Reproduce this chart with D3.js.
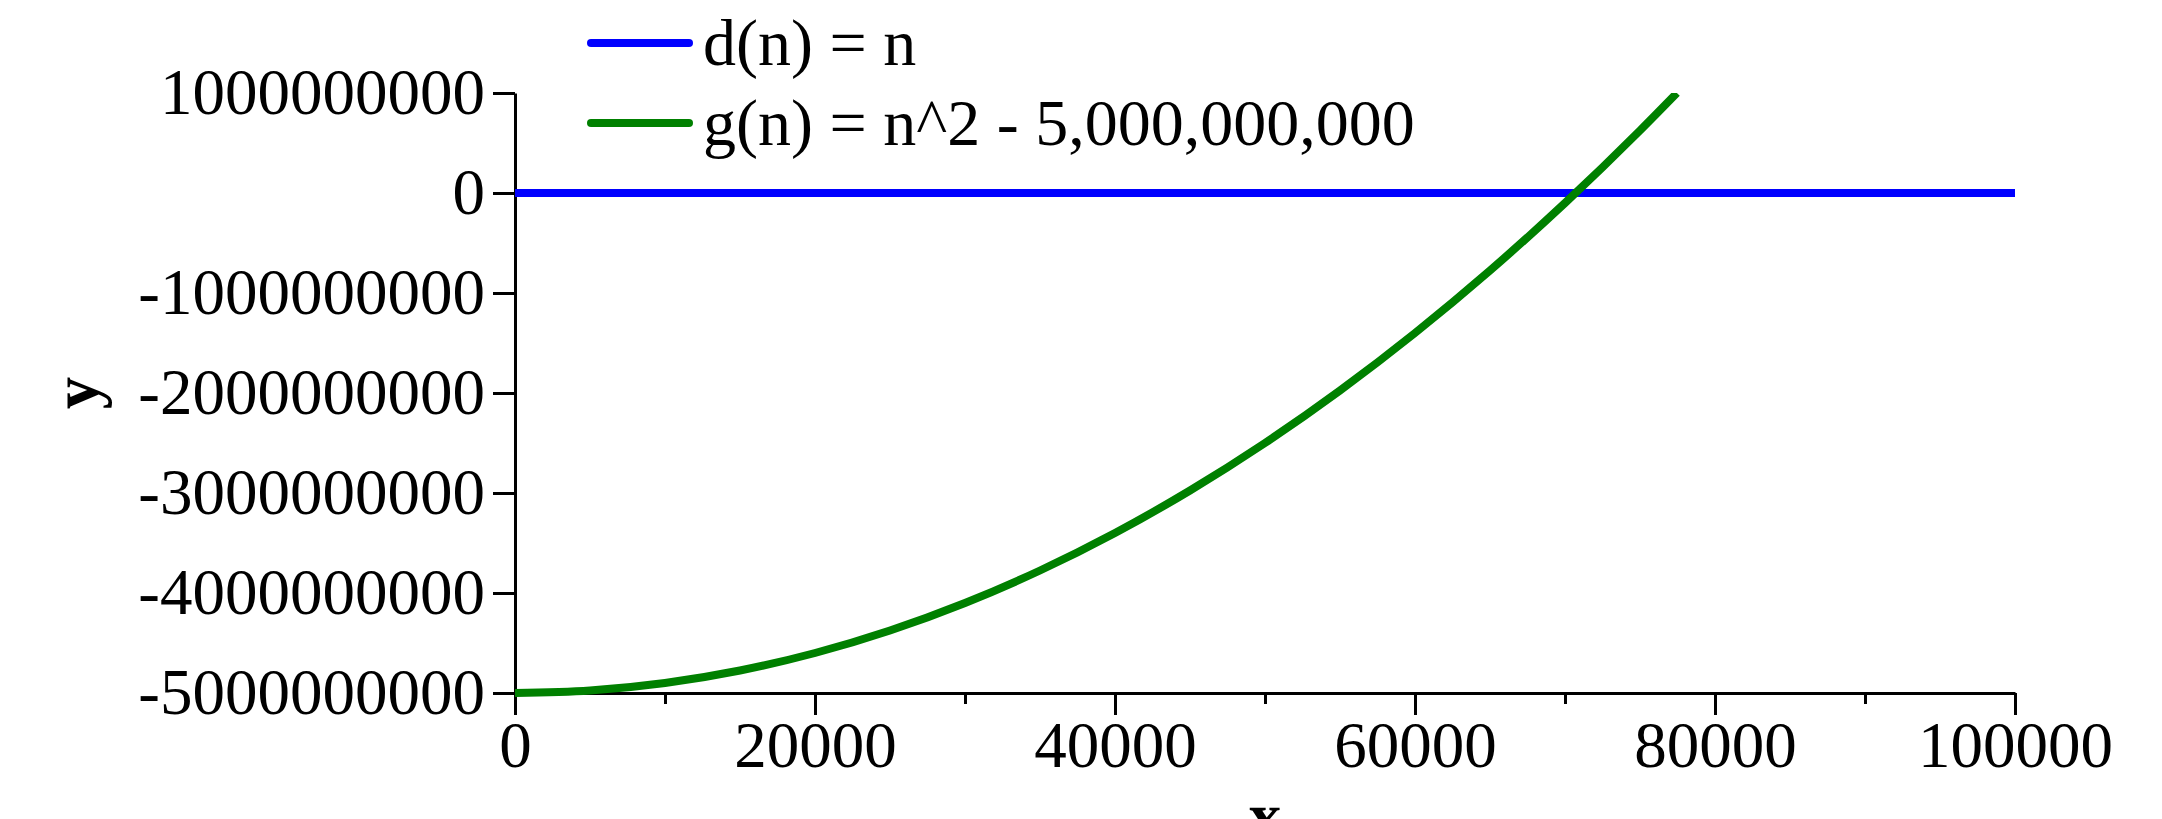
<!DOCTYPE html>
<html>
<head>
<meta charset="utf-8">
<script src="https://cdn.jsdelivr.net/npm/d3@7"></script>
<style>
  html, body { margin: 0; padding: 0; background: #ffffff; }
  svg { display: block; }
</style>
</head>
<body>
<svg id="chart" width="2162" height="819"></svg>
<script>
// ---- data ----
const xTicks = [0, 20000, 40000, 60000, 80000, 100000];
const xTickLabels = ["0", "20000", "40000", "60000", "80000", "100000"];
const xMinorTicks = [10000, 30000, 50000, 70000, 90000];
const yTicks = [1000000000, 0, -1000000000, -2000000000, -3000000000, -4000000000, -5000000000];
const yTickLabels = ["1000000000", "0", "-1000000000", "-2000000000", "-3000000000", "-4000000000", "-5000000000"];

const seriesNames = ["d(n) = n", "g(n) = n^2 - 5,000,000,000"];
const seriesColors = ["#0000ff", "#008000"];

// d(n) = n
const dN = [0, 100000];
const dValues = [0, 100000];

// g(n) = n^2 - 5,000,000,000 (read at regular n)
const gN = [0, 5000, 10000, 15000, 20000, 25000, 30000, 35000, 40000, 45000, 50000, 55000, 60000, 65000, 70000, 75000, 77460];
const gValues = [-5000000000, -4975000000, -4900000000, -4775000000, -4600000000, -4375000000, -4100000000, -3775000000, -3400000000, -2975000000, -2500000000, -1975000000, -1400000000, -775000000, -100000000, 625000000, 1000000000];

// ---- layout ----
const svg = d3.select("#chart");
const FONT = "'Liberation Serif', 'Times New Roman', serif";
const FS = 65;

const x = d3.scaleLinear().domain([0, 100000]).range([515, 2015]);
const y = d3.scaleLinear().domain([-5000000000, 1000000000]).range([693, 93]);

// clip for curves
svg.append("defs").append("clipPath").attr("id", "plotclip")
  .append("rect")
  .attr("x", x(0) - 5).attr("y", y(1000000000))
  .attr("width", x(100000) - x(0) + 10)
  .attr("height", y(-5000000000) - y(1000000000) + 5);

// y axis
const yAxis = d3.axisLeft(y)
  .tickValues(yTicks)
  .tickFormat((d, i) => yTickLabels[i])
  .tickSizeInner(22).tickSizeOuter(0).tickPadding(8);
const gy = svg.append("g").attr("transform", `translate(${x(0)},0)`).call(yAxis);
gy.select(".domain").attr("stroke", "#000").attr("stroke-width", 3);
gy.selectAll(".tick line").attr("stroke", "#000").attr("stroke-width", 3);
gy.selectAll(".tick text").attr("font-family", FONT).attr("font-size", FS).attr("fill", "#000");

// x axis
const xAxis = d3.axisBottom(x)
  .tickValues(xTicks)
  .tickFormat((d, i) => xTickLabels[i])
  .tickSizeInner(22).tickSizeOuter(0).tickPadding(6);
const gx = svg.append("g").attr("transform", `translate(0,${y(-5000000000)})`).call(xAxis);
gx.select(".domain").attr("stroke", "#000").attr("stroke-width", 3);
gx.selectAll(".tick line").attr("stroke", "#000").attr("stroke-width", 3);
gx.selectAll(".tick text").attr("font-family", FONT).attr("font-size", FS).attr("fill", "#000");

// x minor ticks
const xMinor = d3.axisBottom(x).tickValues(xMinorTicks).tickFormat("").tickSizeInner(11).tickSizeOuter(0);
const gxm = svg.append("g").attr("transform", `translate(0,${y(-5000000000)})`).call(xMinor);
gxm.select(".domain").remove();
gxm.selectAll(".tick line").attr("stroke", "#000").attr("stroke-width", 3);

// axis titles
svg.append("text")
  .attr("x", (x(0) + x(100000)) / 2).attr("y", 838)
  .attr("text-anchor", "middle")
  .attr("font-family", FONT).attr("font-size", FS).attr("font-weight", "bold")
  .text("x");
svg.append("text")
  .attr("transform", `translate(98,${(y(1000000000) + y(-5000000000)) / 2}) rotate(-90)`)
  .attr("text-anchor", "middle")
  .attr("font-family", FONT).attr("font-size", FS).attr("font-weight", "bold")
  .text("y");

// curves
const line = d3.line().x(d => x(d[0])).y(d => y(d[1])).curve(d3.curveMonotoneX);
const plot = svg.append("g").attr("clip-path", "url(#plotclip)");
plot.append("path")
  .datum(dN.map((n, i) => [n, dValues[i]]))
  .attr("d", line).attr("fill", "none")
  .attr("stroke", seriesColors[0]).attr("stroke-width", 8);
plot.append("path")
  .datum(gN.map((n, i) => [n, gValues[i]]))
  .attr("d", line).attr("fill", "none")
  .attr("stroke", seriesColors[1]).attr("stroke-width", 8);

// legend
const legend = svg.append("g");
const legendY = [43, 123];
seriesNames.forEach((name, i) => {
  legend.append("line")
    .attr("x1", 591).attr("x2", 689)
    .attr("y1", legendY[i]).attr("y2", legendY[i])
    .attr("stroke", seriesColors[i]).attr("stroke-width", 8)
    .attr("stroke-linecap", "round");
  legend.append("text")
    .attr("x", 703).attr("y", legendY[i] + 22)
    .attr("font-family", FONT).attr("font-size", 66).attr("fill", "#000")
    .text(name);
});
</script>
</body>
</html>
